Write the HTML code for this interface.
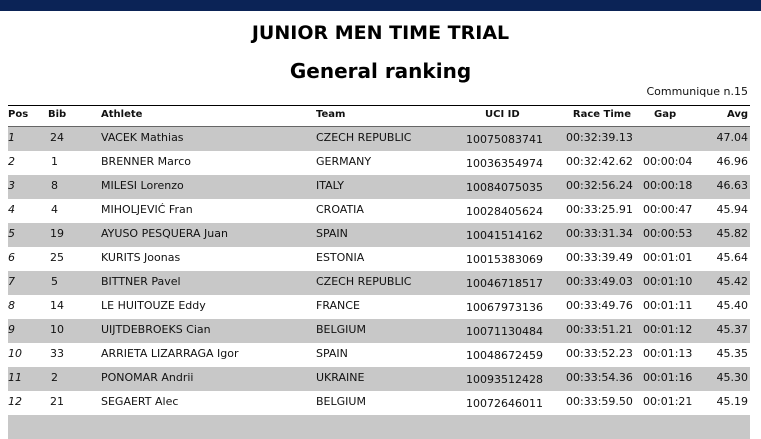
<!DOCTYPE html>
<html><head><style>
body{margin:0;width:761px;height:418px;overflow:hidden;background:#fff;font-family:"DejaVu Sans","Liberation Sans",sans-serif;position:relative;color:#111}
.top{position:absolute;left:0;top:0;width:761px;height:11px;background:#0b2356}
.a{position:absolute;white-space:nowrap}
.t1{left:0;width:761px;text-align:center;top:22px;font-weight:bold;font-size:19px;color:#000}
.t2{left:0;width:761px;text-align:center;top:59px;font-weight:bold;font-size:20px;color:#000}
.hl{position:absolute;left:8px;width:742px}
.row{position:absolute;left:8px;width:742px;height:24px;font-size:11px}
.row span{position:absolute;top:4px;white-space:nowrap}
.g{background:#c8c8c8}
.h span{font-weight:bold;font-size:10px}
</style></head><body>
<div class="top"></div>
<div class="a t1">JUNIOR MEN TIME TRIAL</div>
<div class="a t2">General ranking</div>
<div class="a" style="right:13px;top:85px;font-size:11px">Communique n.15</div>
<div class="hl" style="top:105px;height:1px;background:#000"></div>
<div class="row h" style="top:104px"><span style="left:0;top:5px">Pos</span><span style="left:40px;top:5px">Bib</span><span style="left:93px;top:5px">Athlete</span><span style="left:308px;top:5px">Team</span><span style="left:477px;top:5px">UCI ID</span><span style="right:119px;top:5px">Race Time</span><span style="left:646px;top:5px">Gap</span><span style="right:2px;top:5px">Avg</span></div>
<div class="hl" style="top:126px;height:2px;background:#666"></div>
<div id="rows"></div>
<script>
(function(){
var d=[["1","24","VACEK Mathias","CZECH REPUBLIC","10075083741","00:32:39.13","","47.04"],
["2","1","BRENNER Marco","GERMANY","10036354974","00:32:42.62","00:00:04","46.96"],
["3","8","MILESI Lorenzo","ITALY","10084075035","00:32:56.24","00:00:18","46.63"],
["4","4","MIHOLJEVIĆ Fran","CROATIA","10028405624","00:33:25.91","00:00:47","45.94"],
["5","19","AYUSO PESQUERA Juan","SPAIN","10041514162","00:33:31.34","00:00:53","45.82"],
["6","25","KURITS Joonas","ESTONIA","10015383069","00:33:39.49","00:01:01","45.64"],
["7","5","BITTNER Pavel","CZECH REPUBLIC","10046718517","00:33:49.03","00:01:10","45.42"],
["8","14","LE HUITOUZE Eddy","FRANCE","10067973136","00:33:49.76","00:01:11","45.40"],
["9","10","UIJTDEBROEKS Cian","BELGIUM","10071130484","00:33:51.21","00:01:12","45.37"],
["10","33","ARRIETA LIZARRAGA Igor","SPAIN","10048672459","00:33:52.23","00:01:13","45.35"],
["11","2","PONOMAR Andrii","UKRAINE","10093512428","00:33:54.36","00:01:16","45.30"],
["12","21","SEGAERT Alec","BELGIUM","10072646011","00:33:59.50","00:01:21","45.19"]];
var h="";
for(var i=0;i<13;i++){var r=d[i];var yy=127+i*24;
if(!r){h+='<div class="row g" style="top:'+yy+'px"></div>';continue;}
h+='<div class="row'+(i%2==0?' g':'')+'" style="top:'+yy+'px"><span style="left:0;font-style:italic">'+r[0]+'</span><span style="left:'+(r[1].length==1?43:42)+'px">'+r[1]+'</span><span style="left:93px">'+r[2]+'</span><span style="left:308px">'+r[3]+'</span><span style="left:458px;top:6px">'+r[4]+'</span><span style="left:558px">'+r[5]+'</span><span style="left:635px">'+r[6]+'</span><span style="right:2px">'+r[7]+'</span></div>';}
document.getElementById("rows").innerHTML=h;
})();
</script>
</body></html>
